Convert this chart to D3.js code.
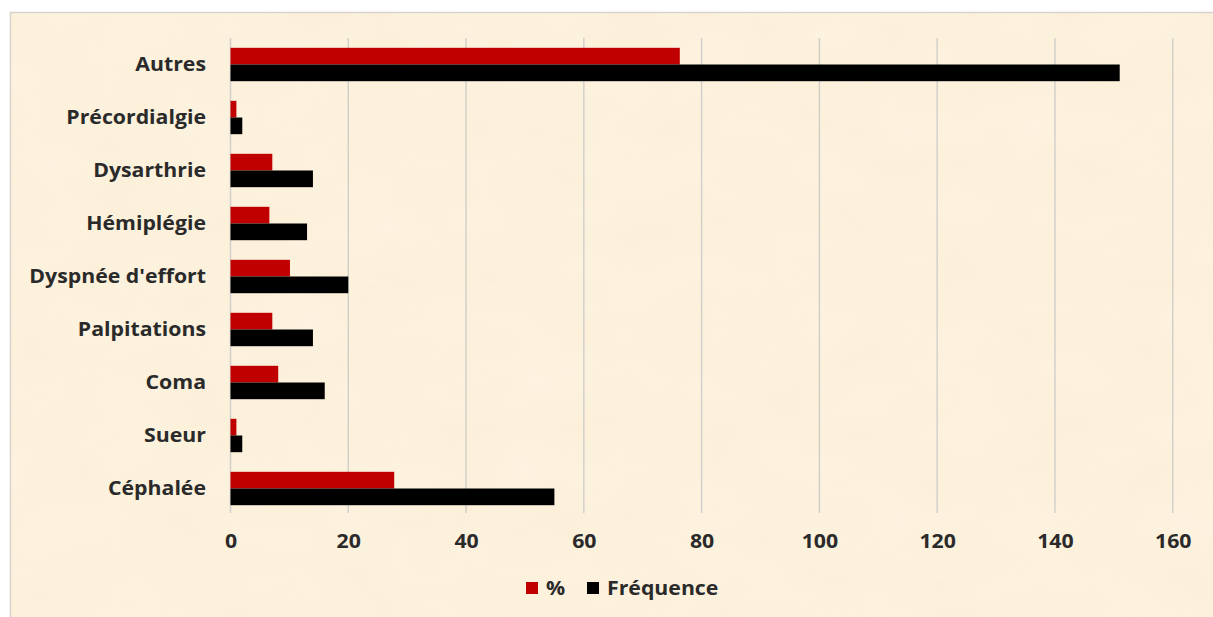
<!DOCTYPE html>
<html>
<head>
<meta charset="utf-8">
<script src="https://cdn.jsdelivr.net/npm/d3@7/dist/d3.min.js"></script>
<style>
  html, body { margin: 0; padding: 0; background: #ffffff; }
  svg { display: block; }
  text { font-family: "Open Sans", Lato, sans-serif; font-weight: 700; fill: #2a2a2a; }
</style>
</head>
<body>
<svg id="chart" width="1213" height="617"></svg>
<script>
// Symptoms, top to bottom
const categories = ["Autres", "Précordialgie", "Dysarthrie", "Hémiplégie", "Dyspnée d'effort", "Palpitations", "Coma", "Sueur", "Céphalée"];
// Share of patients (%)
const percentValues = [76.3, 1.0, 7.1, 6.6, 10.1, 7.1, 8.1, 1.0, 27.8];
// Number of patients
const frequencyValues = [151, 2, 14, 13, 20, 14, 16, 2, 55];
const seriesNames = ["%", "Fréquence"];
const xTicks = [0, 20, 40, 60, 80, 100, 120, 140, 160];

const colors = { "%": "#c00000", "Fréquence": "#000000" };

const svg = d3.select("#chart");
const W = 1213, H = 617;
const FONT = "19px";
const STRETCH = "scale(1.12,1)";   // wide-set lettering

// parchment-like panel
const defs = svg.append("defs");
const f = defs.append("filter").attr("id", "paper").attr("x", 0).attr("y", 0).attr("width", 1).attr("height", 1);
f.append("feTurbulence").attr("type", "fractalNoise").attr("baseFrequency", "0.012 0.02").attr("numOctaves", 3).attr("seed", 7).attr("result", "noise");
f.append("feColorMatrix").attr("in", "noise").attr("type", "matrix")
  .attr("values", "0 0 0 0 0.99  0 0 0 0 0.93  0 0 0 0 0.80  0 0 0 0.55 -0.12").attr("result", "tint");
f.append("feComposite").attr("in", "tint").attr("in2", "SourceGraphic").attr("operator", "in");

svg.append("rect").attr("x", 10.5).attr("y", 12.5).attr("width", W).attr("height", H)
  .attr("fill", "#fcf0da").attr("stroke", "#d6d2cc").attr("stroke-width", 1.5);
svg.append("rect").attr("x", 11).attr("y", 13).attr("width", W - 11).attr("height", H - 13)
  .attr("fill", "#fcf0da").attr("filter", "url(#paper)");

const plot = { left: 230.5, right: 1172.7, top: 38, bottom: 515 };

const x = d3.scaleLinear().domain([0, 160]).range([plot.left, plot.right]);
const y = d3.scaleBand().domain(categories).range([plot.top, plot.bottom])
  .paddingInner(0.37).paddingOuter(0.185);
const ySub = d3.scaleBand().domain(seriesNames).range([0, y.bandwidth()]);

// vertical gridlines
svg.append("g")
  .selectAll("line").data(xTicks).join("line")
  .attr("x1", d => x(d)).attr("x2", d => x(d))
  .attr("y1", plot.top).attr("y2", plot.bottom - 2)
  .attr("stroke", "#d3d0cb").attr("stroke-width", 1.5);

// x axis labels
const xAxis = d3.axisBottom(x).tickValues(xTicks).tickSize(0).tickPadding(0).tickFormat(d3.format("d"));
const gx = svg.append("g").attr("transform", `translate(0, ${plot.bottom})`).call(xAxis);
gx.select(".domain").remove();
gx.selectAll("text").attr("dy", null).attr("y", 33).attr("transform", STRETCH).style("font-size", FONT)
  .attr("fill", "#333333").attr("font-family", "'Open Sans', sans-serif");

// category labels
const yAxis = d3.axisLeft(y).tickSize(0).tickPadding(0);
const gy = svg.append("g").attr("transform", `translate(206, 0)`).call(yAxis);
gy.select(".domain").remove();
gy.selectAll("text").attr("dy", "0.35em").attr("transform", STRETCH).style("font-size", FONT)
  .attr("fill", "#2a2a2a").attr("font-family", "'Open Sans', sans-serif");

// bars
const rows = categories.map((c, i) => ({ c, values: [
  { s: "%", v: percentValues[i] },
  { s: "Fréquence", v: frequencyValues[i] }
]}));

svg.append("g").selectAll("g").data(rows).join("g")
  .attr("transform", d => `translate(0, ${y(d.c)})`)
  .selectAll("rect").data(d => d.values).join("rect")
  .attr("x", x(0))
  .attr("y", d => ySub(d.s))
  .attr("width", d => x(d.v) - x(0))
  .attr("height", ySub.bandwidth())
  .attr("fill", d => colors[d.s]);

// legend
const legend = svg.append("g").attr("transform", "translate(526, 588)");
const items = [{ s: "%", dx: 0 }, { s: "Fréquence", dx: 61 }];
const li = legend.selectAll("g").data(items).join("g").attr("transform", d => `translate(${d.dx}, 0)`);
li.append("rect").attr("x", 0).attr("y", -6).attr("width", 12).attr("height", 12).attr("fill", d => colors[d.s]);
li.append("g").attr("transform", "translate(20, 0)")
  .append("text").attr("transform", STRETCH).attr("dy", "0.35em").style("font-size", FONT).text(d => d.s);
</script>
</body>
</html>
